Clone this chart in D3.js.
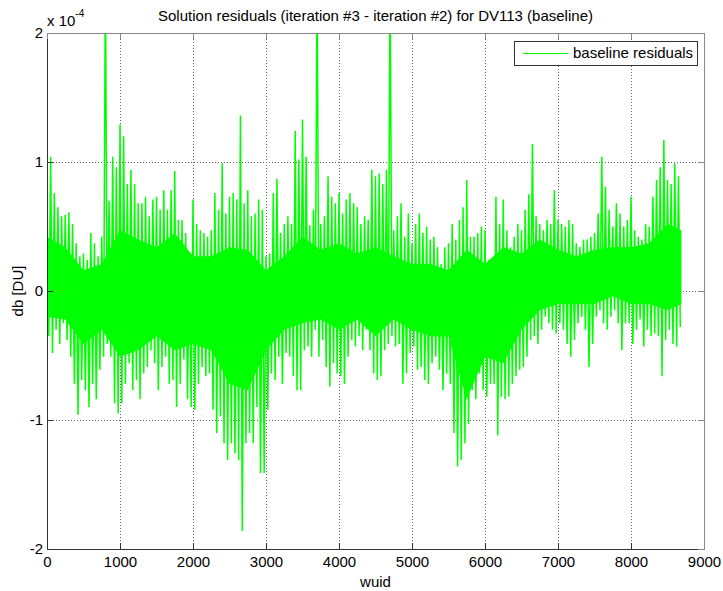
<!DOCTYPE html>
<html lang="en">
<head>
<meta charset="UTF-8">
<title>Solution residuals DV113</title>
<script src="https://d3js.org/d3.v7.min.js"></script>
<style>
    body { margin: 0; background: #fff; }
    svg { font-family: "Liberation Sans", Arial, Helvetica, sans-serif; }
    .axis text { font-size: 15px; fill: #000; }
    .axis path, .axis line { fill: none; shape-rendering: crispEdges; }
    .grid line { stroke: #666; stroke-dasharray: 1,2; shape-rendering: crispEdges; }
</style>
</head>
<body>
<div id="chart"></div>
<script>
var binStart = 0, binWidth = 50;
var binMax = [
    0.60, 1.04, 0.76, 0.65, 0.58, 0.59, 0.61, 0.52, 0.37, 0.27,
    0.29, 0.24, 0.45, 0.37, 0.27, 0.42, 2.50, 0.70, 1.04, 0.96,
    1.29, 1.20, 0.83, 0.94, 0.83, 0.68, 0.68, 0.73, 0.58, 0.71,
    0.73, 0.63, 0.78, 0.63, 0.78, 0.93, 0.55, 0.55, 0.45, 0.27,
    0.71, 0.52, 0.47, 0.45, 0.42, 0.47, 0.76, 0.63, 0.99, 0.60,
    0.73, 0.76, 0.71, 1.36, 0.68, 0.78, 0.58, 0.60, 0.71, 0.63,
    0.27, 0.29, 0.76, 0.87, 0.45, 0.52, 0.58, 0.52, 1.24, 1.02,
    1.33, 1.04, 0.51, 0.63, 2.50, 0.52, 0.58, 0.89, 0.73, 0.68,
    0.76, 0.60, 0.71, 0.76, 0.68, 0.65, 0.52, 0.58, 0.55, 0.94,
    0.89, 0.91, 0.83, 0.94, 2.50, 0.47, 0.58, 0.68, 0.42, 0.60,
    0.37, 0.52, 0.60, 0.45, 0.50, 0.40, 0.42, 0.34, 0.21, 0.34,
    0.37, 0.52, 0.40, 0.55, 0.65, 0.86, 0.42, 0.42, 0.45, 0.50,
    0.47, 0.24, 0.21, 0.73, 0.52, 0.71, 0.47, 0.34, 0.42, 0.52,
    0.47, 0.63, 0.75, 1.14, 0.58, 0.52, 0.47, 0.55, 0.52, 0.78,
    0.55, 0.52, 0.50, 0.55, 0.52, 0.37, 0.34, 0.40, 0.40, 0.42,
    0.45, 0.60, 1.04, 0.81, 0.63, 0.50, 0.68, 0.60, 0.50, 0.55,
    0.73, 0.47, 0.42, 0.40, 0.52, 0.50, 0.73, 0.86, 0.96, 1.17,
    0.86, 0.83, 0.99, 0.89
];
var binMin = [
    -0.35, -0.48, -0.30, -0.41, -0.25, -0.38, -0.51, -0.72, -0.96, -0.69,
    -0.77, -0.90, -0.72, -0.84, -0.61, -0.51, -0.41, -0.51, -0.87, -0.95,
    -0.87, -0.72, -0.56, -0.77, -0.69, -0.84, -0.64, -0.59, -0.46, -0.56,
    -0.77, -0.59, -0.51, -0.72, -0.69, -0.90, -0.72, -0.53, -0.84, -0.90,
    -0.92, -0.72, -0.59, -0.66, -0.64, -0.92, -1.10, -0.97, -1.18, -1.31,
    -1.18, -1.26, -1.31, -1.86, -1.18, -1.10, -1.18, -0.90, -1.41, -1.41,
    -0.92, -0.64, -0.69, -0.51, -0.72, -0.48, -0.51, -0.66, -0.77, -0.77,
    -0.46, -0.43, -0.51, -0.30, -0.51, -0.38, -0.59, -0.74, -0.56, -0.64,
    -0.66, -0.72, -0.51, -0.38, -0.43, -0.35, -0.46, -0.30, -0.46, -0.64,
    -0.69, -0.66, -0.46, -0.41, -0.35, -0.43, -0.41, -0.72, -0.64, -0.48,
    -0.43, -0.61, -0.59, -0.69, -0.72, -0.56, -0.51, -0.61, -0.77, -0.64,
    -0.72, -1.10, -1.36, -1.31, -1.18, -1.03, -0.77, -0.84, -0.64, -0.77,
    -0.82, -0.72, -0.72, -1.12, -0.82, -0.84, -0.82, -0.72, -0.66, -0.61,
    -0.59, -0.51, -0.38, -0.35, -0.41, -0.30, -0.20, -0.25, -0.30, -0.33,
    -0.25, -0.30, -0.41, -0.51, -0.38, -0.25, -0.20, -0.30, -0.59, -0.41,
    -0.20, -0.15, -0.25, -0.30, -0.20, -0.15, -0.25, -0.46, -0.25, -0.25,
    -0.41, -0.30, -0.22, -0.43, -0.30, -0.35, -0.33, -0.35, -0.66, -0.38,
    -0.30, -0.41, -0.43, -0.28
];

// edges of the solid (densest) band of the trace, every 250 wuid
var coreWuid  = [0, 250, 500, 750, 1000, 1250, 1500, 1750, 2000, 2250, 2500, 2750, 3000, 3250, 3500, 3750, 4000, 4250,
                 4500, 4750, 5000, 5250, 5500, 5750, 6000, 6250, 6500, 6750, 7000, 7250, 7500, 7750, 8000, 8250, 8500, 8690];
var coreUpper = [0.42, 0.34, 0.16, 0.21, 0.47, 0.40, 0.34, 0.45, 0.27, 0.27, 0.34, 0.32, 0.16, 0.27, 0.42, 0.32, 0.37, 0.29,
                 0.34, 0.27, 0.21, 0.21, 0.16, 0.32, 0.21, 0.34, 0.29, 0.40, 0.32, 0.27, 0.32, 0.34, 0.34, 0.37, 0.52, 0.47];
var coreLower = [-0.20, -0.22, -0.41, -0.30, -0.51, -0.46, -0.35, -0.46, -0.41, -0.46, -0.72, -0.77, -0.46, -0.30, -0.25, -0.22, -0.30, -0.22,
                 -0.35, -0.22, -0.30, -0.35, -0.35, -0.84, -0.51, -0.56, -0.30, -0.15, -0.10, -0.10, -0.10, -0.04, -0.10, -0.10, -0.15, -0.10];

var xTicks = [0, 1000, 2000, 3000, 4000, 5000, 6000, 7000, 8000, 9000];
var yTicks = [-2, -1, 0, 1, 2];
var seriesName = "baseline residuals";

var margin = { top: 33, right: 19, bottom: 42, left: 47 },
    width = 723 - margin.left - margin.right,
    height = 591 - margin.top - margin.bottom;

var svg = d3.select("#chart")
    .append("svg")
    .attr("width", 723)
    .attr("height", 591);

var g = svg.append("g")
    .attr("transform", "translate(" + margin.left + "," + margin.top + ")");

var x = d3.scaleLinear().domain([0, 9000]).range([0, width]);
var y = d3.scaleLinear().domain([-2, 2]).range([height, 0]);

g.append("defs").append("clipPath").attr("id", "plotClip")
    .append("rect").attr("width", width).attr("height", height);

// grid
var grid = g.append("g").attr("class", "grid");
grid.selectAll(".vx").data(xTicks.slice(1, -1)).enter().append("line")
    .attr("x1", d => x(d) + 0.5).attr("x2", d => x(d) + 0.5)
    .attr("y1", 0).attr("y2", height);
grid.selectAll(".hy").data(yTicks.slice(1, -1)).enter().append("line")
    .attr("y1", d => y(d) + 0.5).attr("y2", d => y(d) + 0.5)
    .attr("x1", 0).attr("x2", width);

// trace: solid band + zigzag between bin extremes
var plot = g.append("g").attr("clip-path", "url(#plotClip)");

var core = coreWuid.map(function (w, i) { return { w: w, hi: coreUpper[i], lo: coreLower[i] }; });
plot.append("path")
    .datum(core)
    .attr("fill", "#00ff00")
    .attr("d", d3.area()
        .x(d => x(d.w))
        .y0(d => y(d.lo))
        .y1(d => y(d.hi)));

var trace = [];
binMax.forEach(function (v, i) {
    var w0 = binStart + i * binWidth;
    trace.push({ w: w0, v: v });
    trace.push({ w: w0 + binWidth / 2, v: binMin[i] });
});
plot.append("path")
    .datum(trace)
    .attr("fill", "none")
    .attr("stroke", "#00ff00")
    .attr("stroke-width", 1.5)
    .attr("stroke-linejoin", "bevel")
    .attr("d", d3.line().x(d => x(d.w)).y(d => y(d.v)));

// axes (MATLAB box, ticks inward)
var fmt = d => String(d);
g.append("g").attr("class", "axis")
    .attr("transform", "translate(0," + height + ")")
    .call(d3.axisBottom(x).tickValues(xTicks).tickFormat(fmt).tickSize(-6).tickPadding(7))
    .call(s => s.selectAll("path, line").attr("stroke", "#333"));
g.append("g").attr("class", "axis")
    .call(d3.axisLeft(y).tickValues(yTicks).tickFormat(fmt).tickSize(-6).tickPadding(4))
    .call(s => s.selectAll("path, line").attr("stroke", "#333"));
g.append("g").attr("class", "axis")
    .call(d3.axisTop(x).tickValues(xTicks).tickFormat("").tickSize(-6))
    .call(s => s.selectAll("path, line").attr("stroke", "#888"));
g.append("g").attr("class", "axis")
    .attr("transform", "translate(" + width + ",0)")
    .call(d3.axisRight(y).tickValues(yTicks).tickFormat("").tickSize(-6))
    .call(s => s.selectAll("path, line").attr("stroke", "#888"));

// exponent label
var ex = g.append("text").attr("x", 0).attr("y", -7).style("font-size", "15px");
ex.append("tspan").text("x 10");
ex.append("tspan").attr("dy", -9).style("font-size", "10px").text("-4");

// title and axis labels
svg.append("text")
    .attr("x", margin.left + width / 2).attr("y", 21)
    .attr("text-anchor", "middle").style("font-size", "15px")
    .text("Solution residuals (iteration #3 - iteration #2) for DV113 (baseline)");
svg.append("text")
    .attr("x", margin.left + width / 2).attr("y", 587)
    .attr("text-anchor", "middle").style("font-size", "15px")
    .text("wuid");
svg.append("text")
    .attr("transform", "translate(23," + (margin.top + height / 2) + ") rotate(-90)")
    .attr("text-anchor", "middle").style("font-size", "15px")
    .text("db [DU]");

// legend
var legend = g.append("g").attr("transform", "translate(" + (width - 190) + ",8)");
legend.append("rect")
    .attr("x", 0.5).attr("y", 0.5).attr("width", 183).attr("height", 24)
    .attr("fill", "#fff").attr("stroke", "#333");
legend.append("line")
    .attr("x1", 9).attr("x2", 54).attr("y1", 12.5).attr("y2", 12.5)
    .attr("stroke", "#00ff00");
legend.append("text")
    .attr("x", 59).attr("y", 17).style("font-size", "15px")
    .text(seriesName);
</script>
</body>
</html>
